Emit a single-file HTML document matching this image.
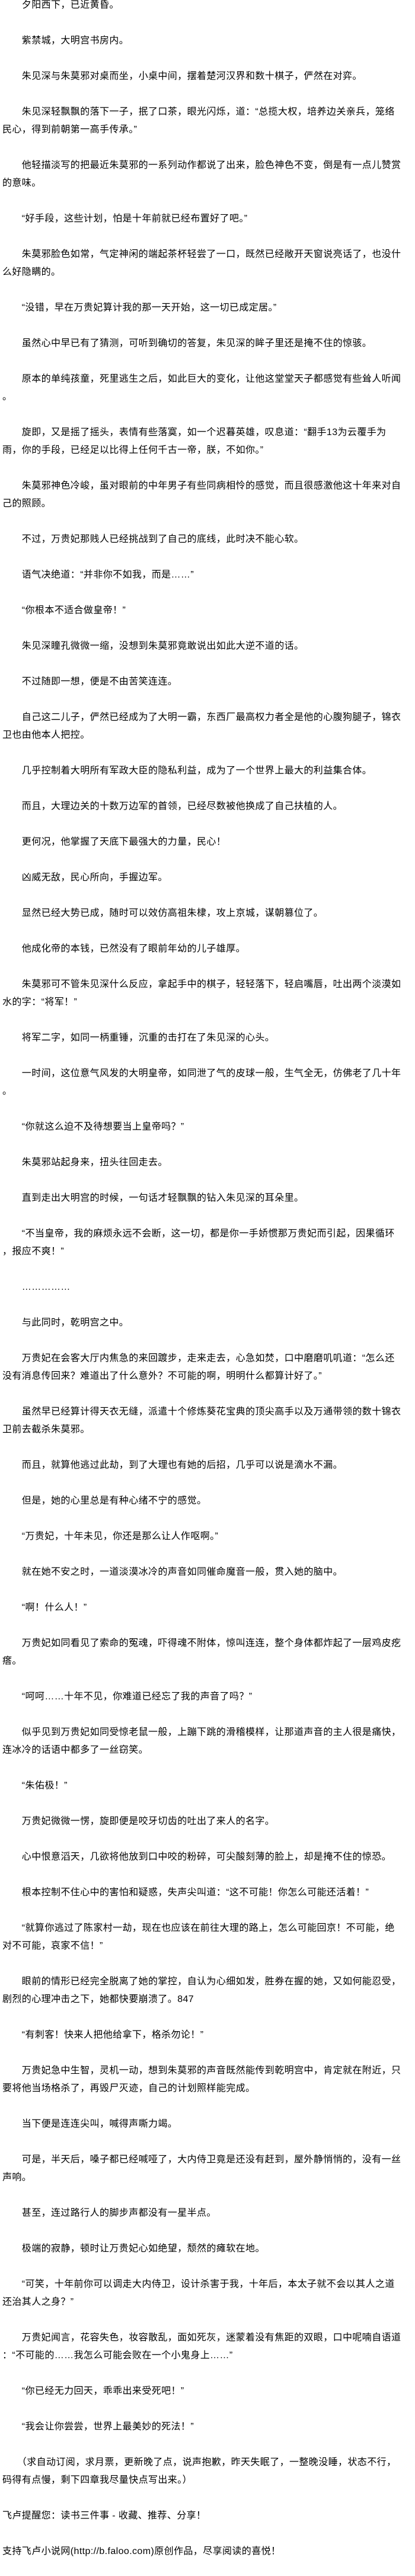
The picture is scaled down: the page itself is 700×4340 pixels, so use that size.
<!DOCTYPE html>
<html><head><meta charset="utf-8">
<style>
html,body{margin:0;padding:0;background:#fff;}
body{width:700px;height:4340px;overflow:hidden;}
#c{margin-top:-6px;padding-left:4px;font-family:"Liberation Sans","Noto Sans CJK SC",sans-serif;font-size:16px;line-height:30px;color:#000;letter-spacing:0.4px;}
p{margin:0 0 30px 0;}
p span{display:block;white-space:nowrap;}
</style></head><body><div id="c">
<p><span>　　夕阳西下，已近黄昏。</span></p>
<p><span>　　紫禁城，大明宫书房内。</span></p>
<p><span>　　朱见深与朱莫邪对桌而坐，小桌中间，摆着楚河汉界和数十棋子，俨然在对弈。</span></p>
<p><span>　　朱见深轻飘飘的落下一子，抿了口茶，眼光闪烁，道：“总揽大权，培养边关亲兵，笼络</span><span>民心，得到前朝第一高手传承。”</span></p>
<p><span>　　他轻描淡写的把最近朱莫邪的一系列动作都说了出来，脸色神色不变，倒是有一点儿赞赏</span><span>的意味。</span></p>
<p><span>　　“好手段，这些计划，怕是十年前就已经布置好了吧。”</span></p>
<p><span>　　朱莫邪脸色如常，气定神闲的端起茶杯轻尝了一口，既然已经敞开天窗说亮话了，也没什</span><span>么好隐瞒的。</span></p>
<p><span>　　“没错，早在万贵妃算计我的那一天开始，这一切已成定居。”</span></p>
<p><span>　　虽然心中早已有了猜测，可听到确切的答复，朱见深的眸子里还是掩不住的惊骇。</span></p>
<p><span>　　原本的单纯孩童，死里逃生之后，如此巨大的变化，让他这堂堂天子都感觉有些耸人听闻</span><span>。</span></p>
<p><span>　　旋即，又是摇了摇头，表情有些落寞，如一个迟暮英雄，叹息道：“翻手13为云覆手为</span><span>雨，你的手段，已经足以比得上任何千古一帝，朕，不如你。”</span></p>
<p><span>　　朱莫邪神色冷峻，虽对眼前的中年男子有些同病相怜的感觉，而且很感激他这十年来对自</span><span>己的照顾。</span></p>
<p><span>　　不过，万贵妃那贱人已经挑战到了自己的底线，此时决不能心软。</span></p>
<p><span>　　语气决绝道：“并非你不如我，而是……”</span></p>
<p><span>　　“你根本不适合做皇帝！”</span></p>
<p><span>　　朱见深瞳孔微微一缩，没想到朱莫邪竟敢说出如此大逆不道的话。</span></p>
<p><span>　　不过随即一想，便是不由苦笑连连。</span></p>
<p><span>　　自己这二儿子，俨然已经成为了大明一霸，东西厂最高权力者全是他的心腹狗腿子，锦衣</span><span>卫也由他本人把控。</span></p>
<p><span>　　几乎控制着大明所有军政大臣的隐私利益，成为了一个世界上最大的利益集合体。</span></p>
<p><span>　　而且，大理边关的十数万边军的首领，已经尽数被他换成了自己扶植的人。</span></p>
<p><span>　　更何况，他掌握了天底下最强大的力量，民心！</span></p>
<p><span>　　凶威无敌，民心所向，手握边军。</span></p>
<p><span>　　显然已经大势已成，随时可以效仿高祖朱棣，攻上京城，谋朝篡位了。</span></p>
<p><span>　　他成化帝的本钱，已然没有了眼前年幼的儿子雄厚。</span></p>
<p><span>　　朱莫邪可不管朱见深什么反应，拿起手中的棋子，轻轻落下，轻启嘴唇，吐出两个淡漠如</span><span>水的字：“将军！”</span></p>
<p><span>　　将军二字，如同一柄重锤，沉重的击打在了朱见深的心头。</span></p>
<p><span>　　一时间，这位意气风发的大明皇帝，如同泄了气的皮球一般，生气全无，仿佛老了几十年</span><span>。</span></p>
<p><span>　　“你就这么迫不及待想要当上皇帝吗？”</span></p>
<p><span>　　朱莫邪站起身来，扭头往回走去。</span></p>
<p><span>　　直到走出大明宫的时候，一句话才轻飘飘的钻入朱见深的耳朵里。</span></p>
<p><span>　　“不当皇帝，我的麻烦永远不会断，这一切，都是你一手娇惯那万贵妃而引起，因果循环</span><span>，报应不爽！”</span></p>
<p><span>　　……………</span></p>
<p><span>　　与此同时，乾明宫之中。</span></p>
<p><span>　　万贵妃在会客大厅内焦急的来回踱步，走来走去，心急如焚，口中磨磨叽叽道：“怎么还</span><span>没有消息传回来？难道出了什么意外？不可能的啊，明明什么都算计好了。”</span></p>
<p><span>　　虽然早已经算计得天衣无缝，派遣十个修炼葵花宝典的顶尖高手以及万通带领的数十锦衣</span><span>卫前去截杀朱莫邪。</span></p>
<p><span>　　而且，就算他逃过此劫，到了大理也有她的后招，几乎可以说是滴水不漏。</span></p>
<p><span>　　但是，她的心里总是有种心绪不宁的感觉。</span></p>
<p><span>　　“万贵妃，十年未见，你还是那么让人作呕啊。”</span></p>
<p><span>　　就在她不安之时，一道淡漠冰冷的声音如同催命魔音一般，贯入她的脑中。</span></p>
<p><span>　　“啊！什么人！”</span></p>
<p><span>　　万贵妃如同看见了索命的冤魂，吓得魂不附体，惊叫连连，整个身体都炸起了一层鸡皮疙</span><span>瘩。</span></p>
<p><span>　　“呵呵……十年不见，你难道已经忘了我的声音了吗？”</span></p>
<p><span>　　似乎见到万贵妃如同受惊老鼠一般，上蹦下跳的滑稽模样，让那道声音的主人很是痛快，</span><span>连冰冷的话语中都多了一丝窃笑。</span></p>
<p><span>　　“朱佑极！”</span></p>
<p><span>　　万贵妃微微一愣，旋即便是咬牙切齿的吐出了来人的名字。</span></p>
<p><span>　　心中恨意滔天，几欲将他放到口中咬的粉碎，可尖酸刻薄的脸上，却是掩不住的惊恐。</span></p>
<p><span>　　根本控制不住心中的害怕和疑惑，失声尖叫道：“这不可能！你怎么可能还活着！”</span></p>
<p><span>　　“就算你逃过了陈家村一劫，现在也应该在前往大理的路上，怎么可能回京！不可能，绝</span><span>对不可能，哀家不信！”</span></p>
<p><span>　　眼前的情形已经完全脱离了她的掌控，自认为心细如发，胜券在握的她，又如何能忍受，</span><span>剧烈的心理冲击之下，她都快要崩溃了。847</span></p>
<p><span>　　“有刺客！快来人把他给拿下，格杀勿论！”</span></p>
<p><span>　　万贵妃急中生智，灵机一动，想到朱莫邪的声音既然能传到乾明宫中，肯定就在附近，只</span><span>要将他当场格杀了，再毁尸灭迹，自己的计划照样能完成。</span></p>
<p><span>　　当下便是连连尖叫，喊得声嘶力竭。</span></p>
<p><span>　　可是，半天后，嗓子都已经喊哑了，大内侍卫竟是还没有赶到，屋外静悄悄的，没有一丝</span><span>声响。</span></p>
<p><span>　　甚至，连过路行人的脚步声都没有一星半点。</span></p>
<p><span>　　极端的寂静，顿时让万贵妃心如绝望，颓然的瘫软在地。</span></p>
<p><span>　　“可笑，十年前你可以调走大内侍卫，设计杀害于我，十年后，本太子就不会以其人之道</span><span>还治其人之身？”</span></p>
<p><span>　　万贵妃闻言，花容失色，妆容散乱，面如死灰，迷蒙着没有焦距的双眼，口中呢喃自语道</span><span>：“不可能的……我怎么可能会败在一个小鬼身上……”</span></p>
<p><span>　　“你已经无力回天，乖乖出来受死吧！”</span></p>
<p><span>　　“我会让你尝尝，世界上最美妙的死法！”</span></p>
<p><span>　　（求自动订阅，求月票，更新晚了点，说声抱歉，昨天失眠了，一整晚没睡，状态不行，</span><span>码得有点慢，剩下四章我尽量快点写出来。）</span></p>
<p><span>飞卢提醒您：读书三件事 - 收藏、推荐、分享！</span></p>
<p><span>支持飞卢小说网(http://b.faloo.com)原创作品，尽享阅读的喜悦！</span></p>
</div></body></html>
